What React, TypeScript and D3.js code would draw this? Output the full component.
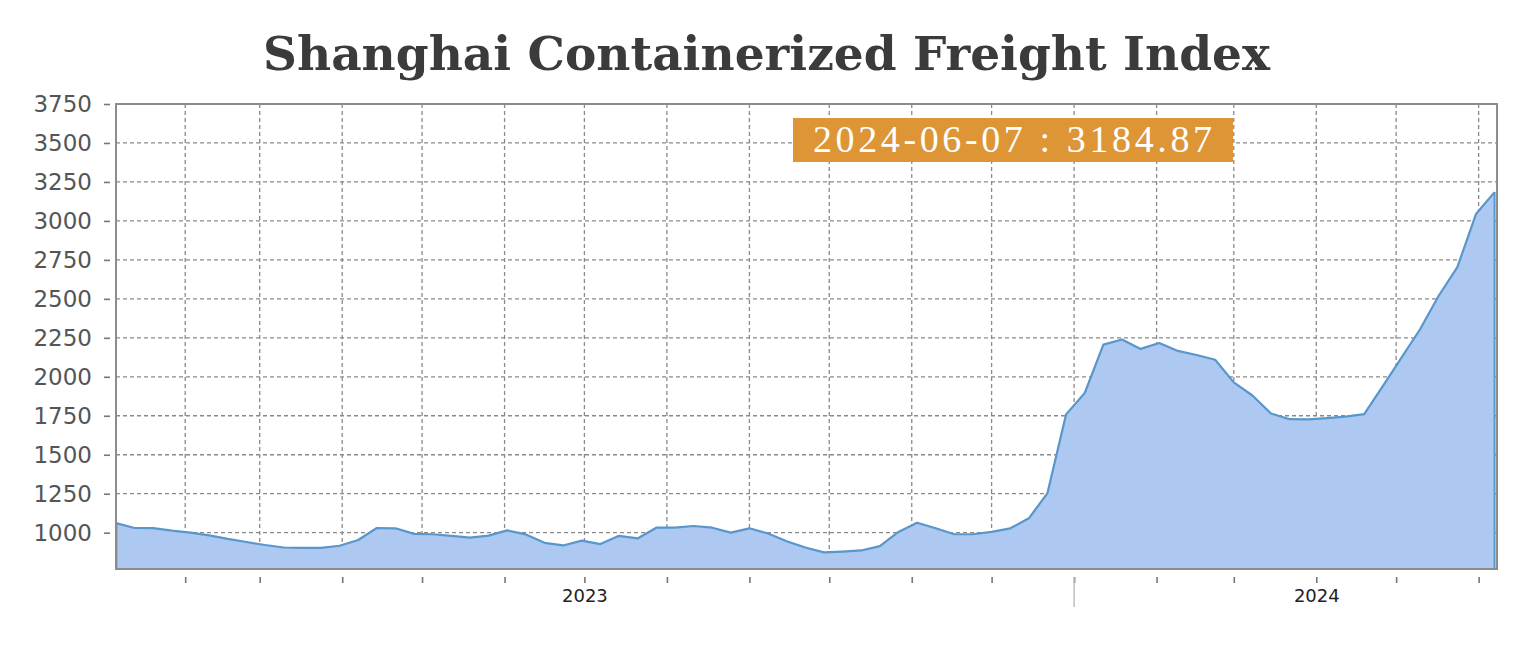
import React, { useEffect, useRef } from 'react';
import * as d3 from 'd3';

// weekly SCFI readings
const dates = [
  '2023-01-06', '2023-01-13', '2023-01-20', '2023-01-27', '2023-02-03', '2023-02-10', '2023-02-17', '2023-02-24',
  '2023-03-03', '2023-03-10', '2023-03-17', '2023-03-24', '2023-03-31', '2023-04-07', '2023-04-14', '2023-04-21',
  '2023-04-28', '2023-05-05', '2023-05-12', '2023-05-19', '2023-05-26', '2023-06-02', '2023-06-09', '2023-06-16',
  '2023-06-23', '2023-06-30', '2023-07-07', '2023-07-14', '2023-07-21', '2023-07-28', '2023-08-04', '2023-08-11',
  '2023-08-18', '2023-08-25', '2023-09-01', '2023-09-08', '2023-09-15', '2023-09-22', '2023-09-29', '2023-10-06',
  '2023-10-13', '2023-10-20', '2023-10-27', '2023-11-03', '2023-11-10', '2023-11-17', '2023-11-24', '2023-12-01',
  '2023-12-08', '2023-12-15', '2023-12-22', '2023-12-29', '2024-01-05', '2024-01-12', '2024-01-19', '2024-01-26',
  '2024-02-02', '2024-02-09', '2024-02-16', '2024-02-23', '2024-03-01', '2024-03-08', '2024-03-15', '2024-03-22',
  '2024-03-29', '2024-04-05', '2024-04-12', '2024-04-19', '2024-04-26', '2024-05-10', '2024-05-17', '2024-05-24',
  '2024-05-31', '2024-06-07',
];
const values = [
  1061, 1030, 1029, 1013, 1000, 983, 960, 940,
  921, 905, 902, 903, 916, 953, 1030, 1028,
  992, 990, 980, 968, 981, 1015, 989, 935,
  918, 949, 927, 980, 963, 1032, 1032, 1043,
  1032, 1000, 1028, 995, 945, 905, 874, 879,
  886, 914, 1005, 1064, 1028, 990, 990, 1005,
  1028, 1092, 1254, 1759, 1896, 2206, 2239, 2179,
  2217, 2166, 2140, 2109, 1964, 1880, 1765, 1728,
  1727, 1735, 1745, 1760, 1940, 2305, 2520, 2703,
  3044, 3184.87,
];

const yTicks = [1000, 1250, 1500, 1750, 2000, 2250, 2500, 2750, 3000, 3250, 3500, 3750];
const yearLabelDates = ['2023-07-01', '2024-04-01'];
const yearLabelTexts = ['2023', '2024'];
const yearBreak = '2024-01-01';
const title = 'Shanghai Containerized Freight Index';
const tipText = '2024-06-07 : 3184.87';

const App = () => {
  const ref = useRef<SVGSVGElement | null>(null);

  useEffect(() => {
    const svg = d3.select(ref.current);
    svg.selectAll('*').remove();

    const parse = d3.timeParse('%Y-%m-%d');
    const data = dates.map((d, i) => ({ date: parse(d), value: values[i] }));

    const left = 116, right = 1497, top = 104, bottom = 569;

    const x = d3.scaleTime()
      .domain([parse(dates[0]), parse(dates[dates.length - 1])])
      .range([left, 1494.6]);
    const y = d3.scaleLinear().domain([767, 3750]).range([bottom, top]);

    svg.append('rect').attr('width', 1520).attr('height', 662).attr('fill', '#fff');

    const months = x.ticks(d3.timeMonth.every(1));

    // grid
    const grid = svg.append('g')
      .attr('stroke', '#8a8a8a')
      .attr('stroke-width', 1.3)
      .attr('stroke-dasharray', '4,3');
    grid.selectAll('line.h')
      .data(yTicks)
      .enter()
      .append('line')
      .attr('x1', left).attr('x2', right)
      .attr('y1', (d) => y(d)).attr('y2', (d) => y(d));
    grid.selectAll('line.v')
      .data(months)
      .enter()
      .append('line')
      .attr('x1', (d) => x(d)).attr('x2', (d) => x(d))
      .attr('y1', top).attr('y2', bottom);

    // area + line
    const area = d3.area()
      .x((d) => x(d.date))
      .y0(bottom)
      .y1((d) => y(d.value));
    svg.append('path')
      .datum(data)
      .attr('d', area)
      .attr('fill', '#adc9f1');

    const line = d3.line()
      .x((d) => x(d.date))
      .y((d) => y(d.value));
    svg.append('path')
      .datum(data)
      .attr('d', line)
      .attr('fill', 'none')
      .attr('stroke', '#5896cc')
      .attr('stroke-width', 2.2)
      .attr('stroke-linejoin', 'round');
    const last = data[data.length - 1];
    svg.append('line')
      .attr('x1', x(last.date)).attr('x2', x(last.date))
      .attr('y1', y(last.value)).attr('y2', bottom)
      .attr('stroke', '#5896cc')
      .attr('stroke-width', 2);
    svg.append('line')
      .attr('x1', left + 0.5).attr('x2', left + 0.5)
      .attr('y1', y(data[0].value)).attr('y2', bottom)
      .attr('stroke', '#3f6a94')
      .attr('stroke-width', 1.5);

    // frame
    svg.append('rect')
      .attr('x', left).attr('y', top)
      .attr('width', right - left).attr('height', bottom - top)
      .attr('fill', 'none')
      .attr('stroke', '#8c8c8c')
      .attr('stroke-width', 2);

    // y axis
    const yAxis = svg.append('g')
      .attr('transform', `translate(${left - 6},0)`)
      .call(d3.axisLeft(y).tickValues(yTicks).tickSize(6).tickPadding(12).tickFormat(d3.format('d')));
    yAxis.select('.domain').remove();
    yAxis.selectAll('line').attr('stroke', '#777').attr('stroke-width', 1.6);
    yAxis.selectAll('text')
      .style('font-family', '"DejaVu Sans", Verdana, sans-serif')
      .style('font-size', '23px')
      .style('fill', '#555');

    // x axis month ticks
    const xTicks = svg.append('g')
      .attr('transform', `translate(0,${bottom + 8})`)
      .call(d3.axisBottom(x).ticks(d3.timeMonth.every(1)).tickSize(6).tickFormat(() => ''));
    xTicks.select('.domain').remove();
    xTicks.selectAll('line').attr('stroke', '#777').attr('stroke-width', 1.6);

    svg.append('line')
      .attr('x1', x(parse(yearBreak))).attr('x2', x(parse(yearBreak)))
      .attr('y1', bottom + 8).attr('y2', bottom + 38)
      .attr('stroke', '#bbb')
      .attr('stroke-width', 1.4);

    const yearAxis = svg.append('g')
      .attr('transform', `translate(0,${bottom + 8})`)
      .call(
        d3.axisBottom(x)
          .tickValues(yearLabelDates.map((d) => parse(d)))
          .tickSize(0)
          .tickPadding(12)
          .tickFormat((d, i) => yearLabelTexts[i])
      );
    yearAxis.select('.domain').remove();
    yearAxis.selectAll('text')
      .style('font-family', '"DejaVu Sans", Verdana, sans-serif')
      .style('font-size', '18px')
      .style('fill', '#222');

    // title
    svg.append('text')
      .attr('x', 263)
      .attr('y', 70)
      .attr('textLength', 1007)
      .attr('lengthAdjust', 'spacingAndGlyphs')
      .style('font-family', '"DejaVu Serif Condensed", "DejaVu Serif", serif')
      .style('font-stretch', 'condensed')
      .style('font-weight', 'bold')
      .style('font-size', '47px')
      .style('fill', '#3b3b3b')
      .text(title);

    // value label of the last point
    svg.append('rect')
      .attr('x', 793).attr('y', 118)
      .attr('width', 440).attr('height', 44)
      .attr('fill', '#dd9536');
    svg.append('text')
      .attr('x', 813)
      .attr('y', 152)
      .attr('textLength', 399)
      .attr('lengthAdjust', 'spacing')
      .style('font-family', '"Liberation Serif", "DejaVu Serif", serif')
      .style('font-size', '38px')
      .style('fill', '#fff')
      .text(tipText);
  }, []);

  return (
    <svg
      ref={ref}
      width={1520}
      height={662}
      style={{ position: 'absolute', left: 0, top: 0 }}
    />
  );
};

export default App;
